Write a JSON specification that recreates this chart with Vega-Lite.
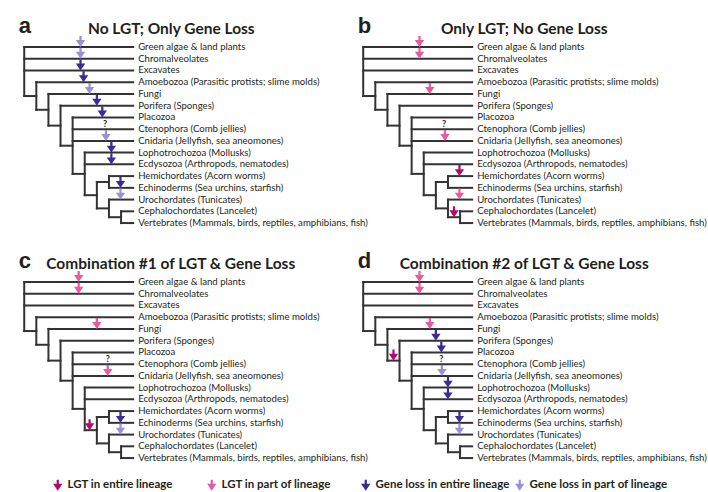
{
  "$schema": "https://vega.github.io/schema/vega-lite/v6.json",
  "padding": 0,
  "spacing": 0,
  "columns": 2,
  "bounds": "flush",
  "config": {"view": {"stroke": null}, "font": "Lato"},
  "datasets": {
    "tree": [
      {"x": 0, "x2": 9, "y": 0, "y2": 0},
      {"x": 0, "x2": 9, "y": 1, "y2": 1},
      {"x": 0, "x2": 9, "y": 2, "y2": 2},
      {"x": 0, "x2": 1, "y": 4.18, "y2": 4.18},
      {"x": 1, "x2": 9, "y": 3, "y2": 3},
      {"x": 1, "x2": 2, "y": 5.35, "y2": 5.35},
      {"x": 2, "x2": 9, "y": 4, "y2": 4},
      {"x": 2, "x2": 3, "y": 6.7, "y2": 6.7},
      {"x": 3, "x2": 9, "y": 5, "y2": 5},
      {"x": 3, "x2": 4, "y": 8.41, "y2": 8.41},
      {"x": 4, "x2": 9, "y": 6, "y2": 6},
      {"x": 4, "x2": 9, "y": 7, "y2": 7},
      {"x": 4, "x2": 9, "y": 8, "y2": 8},
      {"x": 4, "x2": 5, "y": 10.81, "y2": 10.81},
      {"x": 5, "x2": 9, "y": 9, "y2": 9},
      {"x": 5, "x2": 9, "y": 10, "y2": 10},
      {"x": 5, "x2": 6, "y": 12.625, "y2": 12.625},
      {"x": 6, "x2": 7, "y": 11.5, "y2": 11.5},
      {"x": 6, "x2": 7, "y": 13.75, "y2": 13.75},
      {"x": 7, "x2": 9, "y": 11, "y2": 11},
      {"x": 7, "x2": 9, "y": 12, "y2": 12},
      {"x": 7, "x2": 9, "y": 13, "y2": 13},
      {"x": 7, "x2": 8, "y": 14.5, "y2": 14.5},
      {"x": 8, "x2": 9, "y": 14, "y2": 14},
      {"x": 8, "x2": 9, "y": 15, "y2": 15},
      {"x": 0, "x2": 0, "y": 0, "y2": 4.18},
      {"x": 1, "x2": 1, "y": 3, "y2": 5.35},
      {"x": 2, "x2": 2, "y": 4, "y2": 6.7},
      {"x": 3, "x2": 3, "y": 5, "y2": 8.41},
      {"x": 4, "x2": 4, "y": 6, "y2": 10.81},
      {"x": 5, "x2": 5, "y": 9, "y2": 12.625},
      {"x": 6, "x2": 6, "y": 11.5, "y2": 13.75},
      {"x": 7, "x2": 7, "y": 11, "y2": 12},
      {"x": 7, "x2": 7, "y": 13, "y2": 14.5},
      {"x": 8, "x2": 8, "y": 14, "y2": 15}
    ],
    "taxa": [
      {"row": 0, "taxon": "Green algae & land plants"},
      {"row": 1, "taxon": "Chromalveolates"},
      {"row": 2, "taxon": "Excavates"},
      {"row": 3, "taxon": "Amoebozoa (Parasitic protists; slime molds)"},
      {"row": 4, "taxon": "Fungi"},
      {"row": 5, "taxon": "Porifera (Sponges)"},
      {"row": 6, "taxon": "Placozoa"},
      {"row": 7, "taxon": "Ctenophora (Comb jellies)"},
      {"row": 8, "taxon": "Cnidaria (Jellyfish, sea aneomones)"},
      {"row": 9, "taxon": "Lophotrochozoa (Mollusks)"},
      {"row": 10, "taxon": "Ecdysozoa (Arthropods, nematodes)"},
      {"row": 11, "taxon": "Hemichordates (Acorn worms)"},
      {"row": 12, "taxon": "Echinoderms (Sea urchins, starfish)"},
      {"row": 13, "taxon": "Urochordates (Tunicates)"},
      {"row": 14, "taxon": "Cephalochordates (Lancelet)"},
      {"row": 15, "taxon": "Vertebrates (Mammals, birds, reptiles, amphibians, fish)"}
    ],
    "arrows": [
      {"panel": "a", "depth": 4.65, "row": 0, "type": "Gene loss in part of lineage"},
      {"panel": "a", "depth": 4.65, "row": 1, "type": "Gene loss in part of lineage"},
      {"panel": "a", "depth": 4.65, "row": 2, "type": "Gene loss in entire lineage"},
      {"panel": "a", "depth": 4.9, "row": 3, "type": "Gene loss in entire lineage"},
      {"panel": "a", "depth": 5.4, "row": 4, "type": "Gene loss in part of lineage"},
      {"panel": "a", "depth": 6.0, "row": 5, "type": "Gene loss in entire lineage"},
      {"panel": "a", "depth": 6.45, "row": 6, "type": "Gene loss in entire lineage"},
      {"panel": "a", "depth": 6.75, "row": 8, "type": "Gene loss in part of lineage"},
      {"panel": "a", "depth": 7.2, "row": 9, "type": "Gene loss in entire lineage"},
      {"panel": "a", "depth": 7.2, "row": 10, "type": "Gene loss in entire lineage"},
      {"panel": "a", "depth": 7.95, "row": 12, "type": "Gene loss in entire lineage"},
      {"panel": "a", "depth": 7.95, "row": 13, "type": "Gene loss in part of lineage"},
      {"panel": "b", "depth": 4.65, "row": 0, "type": "LGT in part of lineage"},
      {"panel": "b", "depth": 4.65, "row": 1, "type": "LGT in part of lineage"},
      {"panel": "b", "depth": 5.5, "row": 4, "type": "LGT in part of lineage"},
      {"panel": "b", "depth": 6.75, "row": 8, "type": "LGT in part of lineage"},
      {"panel": "b", "depth": 7.95, "row": 11, "type": "LGT in entire lineage"},
      {"panel": "b", "depth": 7.95, "row": 13, "type": "LGT in part of lineage"},
      {"panel": "b", "depth": 7.5, "row": 14.5, "type": "LGT in entire lineage"},
      {"panel": "c", "depth": 4.5, "row": 0, "type": "LGT in part of lineage"},
      {"panel": "c", "depth": 4.5, "row": 1, "type": "LGT in part of lineage"},
      {"panel": "c", "depth": 6.0, "row": 4, "type": "LGT in part of lineage"},
      {"panel": "c", "depth": 6.9, "row": 8, "type": "LGT in part of lineage"},
      {"panel": "c", "depth": 5.4, "row": 12.625, "type": "LGT in entire lineage"},
      {"panel": "c", "depth": 7.95, "row": 12, "type": "Gene loss in entire lineage"},
      {"panel": "c", "depth": 7.95, "row": 13, "type": "Gene loss in part of lineage"},
      {"panel": "d", "depth": 4.65, "row": 0, "type": "LGT in part of lineage"},
      {"panel": "d", "depth": 4.65, "row": 1, "type": "LGT in part of lineage"},
      {"panel": "d", "depth": 5.5, "row": 4, "type": "LGT in part of lineage"},
      {"panel": "d", "depth": 6.0, "row": 5, "type": "Gene loss in entire lineage"},
      {"panel": "d", "depth": 6.45, "row": 6, "type": "Gene loss in entire lineage"},
      {"panel": "d", "depth": 6.5, "row": 8, "type": "Gene loss in part of lineage"},
      {"panel": "d", "depth": 7.0, "row": 9, "type": "Gene loss in entire lineage"},
      {"panel": "d", "depth": 7.0, "row": 10, "type": "Gene loss in entire lineage"},
      {"panel": "d", "depth": 2.5, "row": 6.7, "type": "LGT in entire lineage"},
      {"panel": "d", "depth": 7.95, "row": 12, "type": "Gene loss in entire lineage"},
      {"panel": "d", "depth": 7.95, "row": 13, "type": "Gene loss in part of lineage"}
    ],
    "unknown": [
      {"panel": "a", "depth": 6.68, "row": 7, "label": "?"},
      {"panel": "b", "depth": 6.68, "row": 7, "label": "?"},
      {"panel": "c", "depth": 6.9, "row": 7, "label": "?"},
      {"panel": "d", "depth": 6.45, "row": 7, "label": "?"}
    ],
    "panels": [
      {"panel": "a", "title": "No LGT; Only Gene Loss"},
      {"panel": "b", "title": "Only LGT; No Gene Loss"},
      {"panel": "c", "title": "Combination #1 of LGT & Gene Loss"},
      {"panel": "d", "title": "Combination #2 of LGT & Gene Loss"}
    ]
  },
  "concat": [
    {
      "width": 339, "height": 234.8,
      "layer": [
        {"data": {"name": "tree"}, "mark": {"type": "rule", "color": "#333333", "strokeWidth": 2, "strokeCap": "square"},
         "encoding": {"x": {"field": "x", "type": "quantitative", "scale": {"domain": [-0.525, 24.9]}, "axis": null}, "x2": {"field": "x2"},
                      "y": {"field": "y", "type": "quantitative", "scale": {"domain": [-2.66, 15.97], "reverse": true}, "axis": null}, "y2": {"field": "y2"}}},
        {"data": {"name": "taxa"}, "mark": {"type": "text", "align": "left", "baseline": "middle", "dx": 5, "font": "Lato", "fontSize": 9.6, "color": "#231f20"},
         "encoding": {"x": {"datum": 9, "type": "quantitative"}, "y": {"field": "row", "type": "quantitative"}, "text": {"field": "taxon"}}},
        {"data": {"name": "unknown"}, "transform": [{"filter": "datum.panel === 'a'"}], "mark": {"type": "text", "align": "center", "baseline": "middle", "dy": -5, "fontWeight": "bold", "fontSize": 9, "font": "Lato", "color": "#231f20"},
         "encoding": {"x": {"field": "depth", "type": "quantitative"}, "y": {"field": "row", "type": "quantitative"}, "text": {"field": "label"}}},
        {"data": {"name": "arrows"}, "transform": [{"filter": "datum.panel === 'a'"}], "mark": {"type": "point", "shape": "M-0.2,-1L0.2,-1L0.2,-0.25L0.85,-0.25L0,1L-0.85,-0.25L-0.2,-0.25Z", "size": 121, "filled": true, "opacity": 1, "strokeWidth": 0, "yOffset": -5.5},
         "encoding": {"x": {"field": "depth", "type": "quantitative"}, "y": {"field": "row", "type": "quantitative"},
                      "color": {"field": "type", "type": "nominal", "scale": {"domain": ["LGT in entire lineage", "LGT in part of lineage", "Gene loss in entire lineage", "Gene loss in part of lineage"], "range": ["#b5086e", "#e75a9e", "#3d2b93", "#9b8fd6"]},
                                "legend": {"orient": "none", "legendX": 52, "legendY": 479, "direction": "horizontal", "columns": 4, "gridAlign": "all", "columnPadding": 0, "title": null, "padding": 0, "symbolType": "M-0.2,-1L0.2,-1L0.2,-0.25L0.85,-0.25L0,1L-0.85,-0.25L-0.2,-0.25Z", "symbolSize": 121, "symbolStrokeWidth": 0, "labelFont": "Lato", "labelFontWeight": "bold", "labelFontSize": 11.5, "labelColor": "#231f20", "labelOffset": 4}}}},
        {"data": {"name": "panels"}, "transform": [{"filter": "datum.panel === 'a'"}], "mark": {"type": "text", "align": "left", "baseline": "alphabetic", "font": "Liberation Sans", "fontWeight": "bold", "fontSize": 22, "color": "#231f20"},
         "encoding": {"x": {"datum": -0.45, "type": "quantitative"}, "y": {"datum": -1.15, "type": "quantitative"}, "text": {"field": "panel"}}},
        {"data": {"name": "panels"}, "transform": [{"filter": "datum.panel === 'a'"}], "mark": {"type": "text", "align": "center", "baseline": "alphabetic", "font": "Lato", "fontWeight": "bold", "fontSize": 15.5, "color": "#231f20"},
         "encoding": {"x": {"datum": 12.15, "type": "quantitative"}, "y": {"datum": -1.1, "type": "quantitative"}, "text": {"field": "title"}}}
      ]
    },
    {
      "width": 339, "height": 234.8,
      "layer": [
        {"data": {"name": "tree"}, "mark": {"type": "rule", "color": "#333333", "strokeWidth": 2, "strokeCap": "square"},
         "encoding": {"x": {"field": "x", "type": "quantitative", "scale": {"domain": [-0.525, 24.9]}, "axis": null}, "x2": {"field": "x2"},
                      "y": {"field": "y", "type": "quantitative", "scale": {"domain": [-2.66, 15.97], "reverse": true}, "axis": null}, "y2": {"field": "y2"}}},
        {"data": {"name": "taxa"}, "mark": {"type": "text", "align": "left", "baseline": "middle", "dx": 5, "font": "Lato", "fontSize": 9.6, "color": "#231f20"},
         "encoding": {"x": {"datum": 9, "type": "quantitative"}, "y": {"field": "row", "type": "quantitative"}, "text": {"field": "taxon"}}},
        {"data": {"name": "unknown"}, "transform": [{"filter": "datum.panel === 'b'"}], "mark": {"type": "text", "align": "center", "baseline": "middle", "dy": -5, "fontWeight": "bold", "fontSize": 9, "font": "Lato", "color": "#231f20"},
         "encoding": {"x": {"field": "depth", "type": "quantitative"}, "y": {"field": "row", "type": "quantitative"}, "text": {"field": "label"}}},
        {"data": {"name": "arrows"}, "transform": [{"filter": "datum.panel === 'b'"}], "mark": {"type": "point", "shape": "M-0.2,-1L0.2,-1L0.2,-0.25L0.85,-0.25L0,1L-0.85,-0.25L-0.2,-0.25Z", "size": 121, "filled": true, "opacity": 1, "strokeWidth": 0, "yOffset": -5.5},
         "encoding": {"x": {"field": "depth", "type": "quantitative"}, "y": {"field": "row", "type": "quantitative"},
                      "color": {"field": "type", "type": "nominal"}}},
        {"data": {"name": "panels"}, "transform": [{"filter": "datum.panel === 'b'"}], "mark": {"type": "text", "align": "left", "baseline": "alphabetic", "font": "Liberation Sans", "fontWeight": "bold", "fontSize": 22, "color": "#231f20"},
         "encoding": {"x": {"datum": -0.45, "type": "quantitative"}, "y": {"datum": -1.15, "type": "quantitative"}, "text": {"field": "panel"}}},
        {"data": {"name": "panels"}, "transform": [{"filter": "datum.panel === 'b'"}], "mark": {"type": "text", "align": "center", "baseline": "alphabetic", "font": "Lato", "fontWeight": "bold", "fontSize": 15.5, "color": "#231f20"},
         "encoding": {"x": {"datum": 13.3, "type": "quantitative"}, "y": {"datum": -1.1, "type": "quantitative"}, "text": {"field": "title"}}}
      ]
    },
    {
      "width": 339, "height": 234.8,
      "layer": [
        {"data": {"name": "tree"}, "mark": {"type": "rule", "color": "#333333", "strokeWidth": 2, "strokeCap": "square"},
         "encoding": {"x": {"field": "x", "type": "quantitative", "scale": {"domain": [-0.525, 24.9]}, "axis": null}, "x2": {"field": "x2"},
                      "y": {"field": "y", "type": "quantitative", "scale": {"domain": [-2.66, 15.97], "reverse": true}, "axis": null}, "y2": {"field": "y2"}}},
        {"data": {"name": "taxa"}, "mark": {"type": "text", "align": "left", "baseline": "middle", "dx": 5, "font": "Lato", "fontSize": 9.6, "color": "#231f20"},
         "encoding": {"x": {"datum": 9, "type": "quantitative"}, "y": {"field": "row", "type": "quantitative"}, "text": {"field": "taxon"}}},
        {"data": {"name": "unknown"}, "transform": [{"filter": "datum.panel === 'c'"}], "mark": {"type": "text", "align": "center", "baseline": "middle", "dy": -5, "fontWeight": "bold", "fontSize": 9, "font": "Lato", "color": "#231f20"},
         "encoding": {"x": {"field": "depth", "type": "quantitative"}, "y": {"field": "row", "type": "quantitative"}, "text": {"field": "label"}}},
        {"data": {"name": "arrows"}, "transform": [{"filter": "datum.panel === 'c'"}], "mark": {"type": "point", "shape": "M-0.2,-1L0.2,-1L0.2,-0.25L0.85,-0.25L0,1L-0.85,-0.25L-0.2,-0.25Z", "size": 121, "filled": true, "opacity": 1, "strokeWidth": 0, "yOffset": -5.5},
         "encoding": {"x": {"field": "depth", "type": "quantitative"}, "y": {"field": "row", "type": "quantitative"},
                      "color": {"field": "type", "type": "nominal"}}},
        {"data": {"name": "panels"}, "transform": [{"filter": "datum.panel === 'c'"}], "mark": {"type": "text", "align": "left", "baseline": "alphabetic", "font": "Liberation Sans", "fontWeight": "bold", "fontSize": 22, "color": "#231f20"},
         "encoding": {"x": {"datum": -0.45, "type": "quantitative"}, "y": {"datum": -1.15, "type": "quantitative"}, "text": {"field": "panel"}}},
        {"data": {"name": "panels"}, "transform": [{"filter": "datum.panel === 'c'"}], "mark": {"type": "text", "align": "center", "baseline": "alphabetic", "font": "Lato", "fontWeight": "bold", "fontSize": 15.5, "color": "#231f20"},
         "encoding": {"x": {"datum": 12.1, "type": "quantitative"}, "y": {"datum": -1.1, "type": "quantitative"}, "text": {"field": "title"}}}
      ]
    },
    {
      "width": 339, "height": 234.8,
      "layer": [
        {"data": {"name": "tree"}, "mark": {"type": "rule", "color": "#333333", "strokeWidth": 2, "strokeCap": "square"},
         "encoding": {"x": {"field": "x", "type": "quantitative", "scale": {"domain": [-0.525, 24.9]}, "axis": null}, "x2": {"field": "x2"},
                      "y": {"field": "y", "type": "quantitative", "scale": {"domain": [-2.66, 15.97], "reverse": true}, "axis": null}, "y2": {"field": "y2"}}},
        {"data": {"name": "taxa"}, "mark": {"type": "text", "align": "left", "baseline": "middle", "dx": 5, "font": "Lato", "fontSize": 9.6, "color": "#231f20"},
         "encoding": {"x": {"datum": 9, "type": "quantitative"}, "y": {"field": "row", "type": "quantitative"}, "text": {"field": "taxon"}}},
        {"data": {"name": "unknown"}, "transform": [{"filter": "datum.panel === 'd'"}], "mark": {"type": "text", "align": "center", "baseline": "middle", "dy": -5, "fontWeight": "bold", "fontSize": 9, "font": "Lato", "color": "#231f20"},
         "encoding": {"x": {"field": "depth", "type": "quantitative"}, "y": {"field": "row", "type": "quantitative"}, "text": {"field": "label"}}},
        {"data": {"name": "arrows"}, "transform": [{"filter": "datum.panel === 'd'"}], "mark": {"type": "point", "shape": "M-0.2,-1L0.2,-1L0.2,-0.25L0.85,-0.25L0,1L-0.85,-0.25L-0.2,-0.25Z", "size": 121, "filled": true, "opacity": 1, "strokeWidth": 0, "yOffset": -5.5},
         "encoding": {"x": {"field": "depth", "type": "quantitative"}, "y": {"field": "row", "type": "quantitative"},
                      "color": {"field": "type", "type": "nominal"}}},
        {"data": {"name": "panels"}, "transform": [{"filter": "datum.panel === 'd'"}], "mark": {"type": "text", "align": "left", "baseline": "alphabetic", "font": "Liberation Sans", "fontWeight": "bold", "fontSize": 22, "color": "#231f20"},
         "encoding": {"x": {"datum": -0.45, "type": "quantitative"}, "y": {"datum": -1.15, "type": "quantitative"}, "text": {"field": "panel"}}},
        {"data": {"name": "panels"}, "transform": [{"filter": "datum.panel === 'd'"}], "mark": {"type": "text", "align": "center", "baseline": "alphabetic", "font": "Lato", "fontWeight": "bold", "fontSize": 15.5, "color": "#231f20"},
         "encoding": {"x": {"datum": 13.3, "type": "quantitative"}, "y": {"datum": -1.1, "type": "quantitative"}, "text": {"field": "title"}}}
      ]
    }
  ]
}
